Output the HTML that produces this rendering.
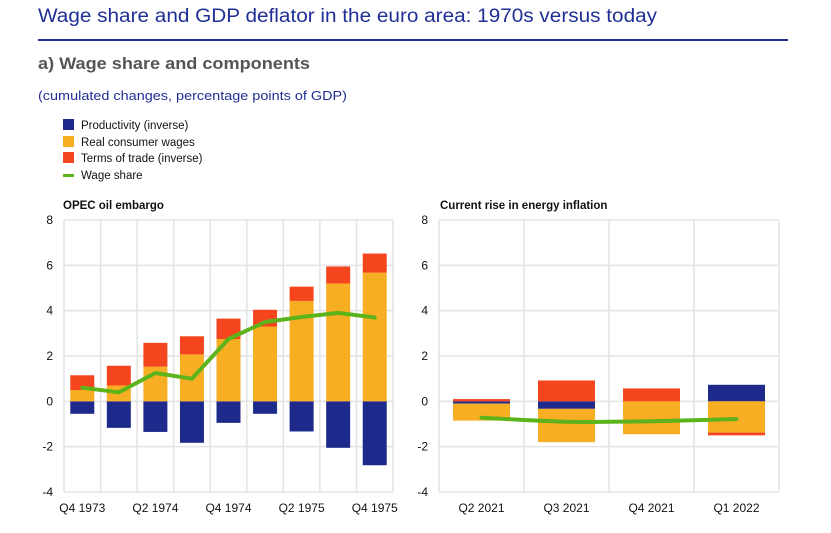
<!DOCTYPE html>
<html><head><meta charset="utf-8"><style>
html,body{margin:0;padding:0;background:#fff;}
svg{display:block;font-family:"Liberation Sans",Arial,sans-serif;}
</style></head><body>
<svg id="chart" width="831" height="533" viewBox="0 0 831 533" xmlns="http://www.w3.org/2000/svg">
<text x="38" y="22" font-size="19" fill="#1f2f95" textLength="619" lengthAdjust="spacingAndGlyphs">Wage share and GDP deflator in the euro area: 1970s versus today</text>
<rect x="38" y="39" width="750" height="2" fill="#1f2f95"/>
<text x="38" y="69" font-size="17" font-weight="bold" fill="#555" textLength="272" lengthAdjust="spacingAndGlyphs">a) Wage share and components</text>
<text x="38" y="100" font-size="13" fill="#1f2f95" textLength="309" lengthAdjust="spacingAndGlyphs">(cumulated changes, percentage points of GDP)</text>
<g font-size="11.5" fill="#111">
<rect x="63" y="119" width="11" height="11" fill="#1d2a8b"/>
<text x="81" y="129">Productivity (inverse)</text>
<rect x="63" y="136" width="11" height="11" fill="#f7ae22"/>
<text x="81" y="146">Real consumer wages</text>
<rect x="63" y="152" width="11" height="11" fill="#f5451f"/>
<text x="81" y="162">Terms of trade (inverse)</text>
<rect x="63" y="174" width="11" height="3" fill="#5db31a"/>
<text x="81" y="179">Wage share</text>
</g>
<text x="63" y="209" font-size="11.5" font-weight="bold" fill="#111">OPEC oil embargo</text>
<text x="440" y="209" font-size="11.5" font-weight="bold" fill="#111">Current rise in energy inflation</text>
<g id="left"></g>
<g id="right"></g>
</svg>
<script>
const leftCats = ["Q4 1973","Q1 1974","Q2 1974","Q3 1974","Q4 1974","Q1 1975","Q2 1975","Q3 1975","Q4 1975"];
const leftProd = [-0.55,-1.17,-1.35,-1.83,-0.95,-0.55,-1.33,-2.05,-2.82];
const leftWages = [0.5,0.7,1.53,2.07,2.75,3.3,4.43,5.2,5.68];
const leftTot = [0.65,0.87,1.05,0.8,0.9,0.74,0.63,0.75,0.84];
const leftShare = [0.6,0.4,1.25,1.0,2.75,3.5,3.72,3.9,3.7];
const rightCats = ["Q2 2021","Q3 2021","Q4 2021","Q1 2022"];
const rightProd = [-0.1,-0.33,0,0.73];
const rightWages = [-0.75,-1.47,-1.45,-1.38];
const rightTot = [0.1,0.92,0.57,-0.12];
const rightShare = [-0.72,-0.9,-0.88,-0.78];
const yTicks = [-4,-2,0,2,4,6,8];

const NS="http://www.w3.org/2000/svg";
const Y0=220, Y1=492, YMIN=-4, YMAX=8;
function y(v){return Y0+(YMAX-v)/(YMAX-YMIN)*(Y1-Y0);}
function mk(parent,tag,attrs){const e=document.createElementNS(NS,tag);for(const k in attrs)e.setAttribute(k,attrs[k]);parent.appendChild(e);return e;}

function panel(g,x0,x1,cats,prod,wages,tot,share,barW,labelEvery,smooth){
  const n=cats.length, w=(x1-x0)/n;
  const cx=i=>x0+w*(i+0.5);
  for(const t of yTicks){
    const l=mk(g,"line",{x1:x0,x2:x1,y1:y(t),y2:y(t),stroke:"#e3e3e3","stroke-width":1.5});
    
    
    const tx=mk(g,"text",{x:x0-11,y:y(t)+4,"font-size":12,"text-anchor":"end",fill:"#111"});
    tx.textContent=t;
    
    
  }
  for(let i=0;i<=n;i++){
    const l=mk(g,"line",{x1:x0+w*i,x2:x0+w*i,y1:Y0,y2:Y1,stroke:"#e3e3e3","stroke-width":1.5});
    
    
  }
  for(let i=0;i<n;i++){
    let pos=0,neg=0;
    const segs=[[prod[i],"#1d2a8b","bar-productivity"],[wages[i],"#f7ae22","bar-real-wages"],[tot[i],"#f5451f","bar-terms-of-trade"]];
    for(const [v,c,name] of segs){
      if(!v)continue;
      let a,b;
      if(v>=0){a=pos;b=pos+v;pos=b;}else{a=neg;b=neg+v;neg=b;}
      const top=y(Math.max(a,b)), bot=y(Math.min(a,b));
      const r=mk(g,"rect",{x:cx(i)-barW/2,y:top,width:barW,height:Math.max(bot-top,0.5),fill:c});
      
      
    }
    if(i%labelEvery===0){
      const t=mk(g,"text",{x:cx(i),y:512,"font-size":12,"text-anchor":"middle",fill:"#111"});
      t.textContent=cats[i];
      
      
    }
  }
  const P=share.map((v,i)=>[cx(i),y(v)]);
  let d="M"+P[0][0].toFixed(1)+","+P[0][1].toFixed(1);
  for(let i=1;i<P.length;i++){
    if(smooth){
      const p0=P[Math.max(i-2,0)],p1=P[i-1],p2=P[i],p3=P[Math.min(i+1,P.length-1)];
      const c1=[p1[0]+(p2[0]-p0[0])/6,p1[1]+(p2[1]-p0[1])/6];
      const c2=[p2[0]-(p3[0]-p1[0])/6,p2[1]-(p3[1]-p1[1])/6];
      d+=" C"+c1.join(",")+" "+c2.join(",")+" "+p2.join(",");
    } else d+=" L"+P[i][0].toFixed(1)+","+P[i][1].toFixed(1);
  }
  const pl=mk(g,"path",{d:d,fill:"none",stroke:"#5db31a","stroke-width":4,"stroke-linejoin":"round","stroke-linecap":"round"});
  
  
}
panel(document.getElementById("left"),64,393,leftCats,leftProd,leftWages,leftTot,leftShare,24,2,false);
panel(document.getElementById("right"),439,779,rightCats,rightProd,rightWages,rightTot,rightShare,57,1,true);
</script>
</body></html>
